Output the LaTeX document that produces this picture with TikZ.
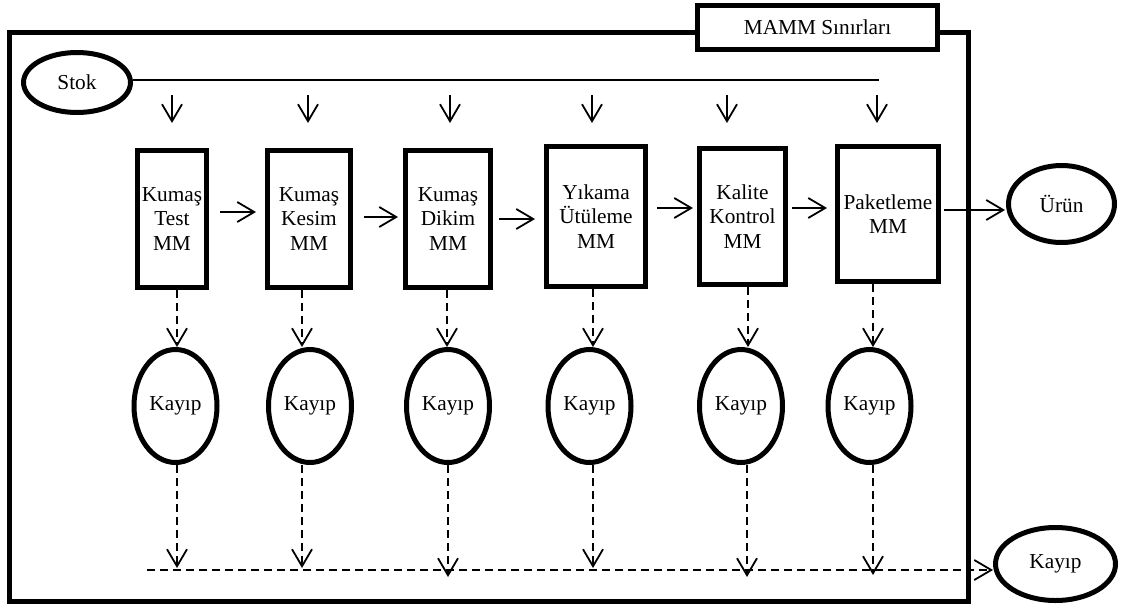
\documentclass[tikz,border=0pt]{standalone}
\usepackage{fontspec}
\setmainfont{Liberation Serif}
\usetikzlibrary{shapes.geometric,arrows.meta}
\begin{document}
\begin{tikzpicture}[x=1pt,y=-1pt,
  every node/.style={font=\fontsize{21.3}{24.5}\selectfont, inner sep=0pt, align=center},
  mmbox/.style={draw, rectangle, line width=5pt},
  oval/.style={draw, ellipse, line width=5pt},
  arr/.style={line width=1.8pt, -{Straight Barb[length=17pt,width=20pt]}},
  darr/.style={arr, dash pattern=on 8pt off 5pt}]
\useasboundingbox (0,0) rectangle (1123,610);

% boundary label and frame
\node[mmbox, minimum width=240pt, minimum height=44pt] (mamm) at (817.5,27.5) {MAMM Sınırları};
\draw[line width=5pt] (mamm.west |- 0,32.5) -- (9.5,32.5) -- (9.5,601.5)
  -- (968,601.5) -- (968,32.5) -- (mamm.east |- 0,32.5);

% stock supply line
\node[oval, minimum width=107pt, minimum height=60pt] (stok) at (77,82.5) {Stok};
\coordinate (stokend) at (879,80);
\draw[line width=1.8pt] (stok.east |- 0,80) -- (stokend);

% process steps
\node[mmbox, minimum width=69pt,  minimum height=137pt] (b1) at (172,219)   {Kumaş\\Test\\MM};
\node[mmbox, minimum width=83pt,  minimum height=137pt] (b2) at (309,219)   {Kumaş\\Kesim\\MM};
\node[mmbox, minimum width=85pt,  minimum height=137pt] (b3) at (448,219)   {Kumaş\\Dikim\\MM};
\node[mmbox, minimum width=99pt,  minimum height=140pt] (b4) at (596,216.5) {Yıkama\\Ütüleme\\MM};
\node[mmbox, minimum width=86pt,  minimum height=136pt] (b5) at (742.5,216.5) {Kalite\\Kontrol\\MM};
\node[mmbox, minimum width=101pt, minimum height=135pt] (b6) at (888,214)   {Paketleme\\MM};

\node[oval, minimum width=106pt, minimum height=77pt] (urun) at (1061.5,204) {Ürün};

% losses
\foreach \i/\x in {1/175.5,2/310,3/448,4/589.5,5/741,6/869.5}
  \node[oval, minimum width=83pt, minimum height=113pt] (k\i) at (\x,406) {Kayıp};
\node[oval, minimum width=120pt, minimum height=73pt] (kall) at (1055.5,564) {Kayıp};

% material inflow from stock
\foreach \i/\x in {1/172,2/308,3/450,4/592,5/727,6/877}{
  \coordinate (in\i) at (\x,95);
  \draw[arr] (in\i) -- ++(0,28);
}

% flow between steps
\foreach \a/\b/\y/\s/\t in {b1/b2/212/11/9, b2/b3/217/11/5, b3/b4/219/6/9,
                            b4/b5/208/9/4, b5/b6/208/4/8, b6/urun/210/3/1}
  \draw[arr, shorten <=\s pt, shorten >=\t pt] (\a.east |- 0,\y) -- (\b.west |- 0,\y);

% losses of each step
\foreach \i/\x in {1/177,2/302,3/447,4/593,5/748,6/873}
  \draw[darr] (\x,0 |- b\i.south) -- (\x,0 |- k\i.north);

\coordinate (lossstart) at (147,570);
\foreach \i/\x/\e in {1/177/568,2/302/568,3/448/577,4/593/568,5/747/577,6/873/575}
  \draw[darr] (\x,0 |- k\i.south) -- (\x,\e);
\draw[darr] (lossstart) -- (kall.west |- lossstart);
\end{tikzpicture}
\end{document}
